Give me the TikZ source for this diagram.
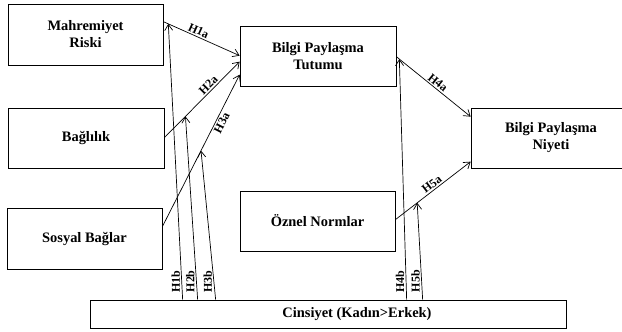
\documentclass[tikz,border=0pt]{standalone}
\usepackage{fontspec}
\setmainfont{Liberation Serif}
\usetikzlibrary{arrows.meta,calc}
\begin{document}
\begin{tikzpicture}[x=1bp,y=-1bp,
  box/.style={draw, line width=0.7bp, rectangle, inner sep=0pt, align=center,
    font=\fontsize{14.5}{17}\selectfont\bfseries},
  arr/.style={line width=0.7bp, -{Straight Barb[length=6bp,width=8bp,line width=0.7bp]}},
  lab/.style={font=\fontsize{12}{14}\selectfont\bfseries, inner sep=1.5bp},
  vlab/.style={font=\fontsize{12}{14}\selectfont\bfseries, inner sep=1.5bp, rotate=90, anchor=south}]
\useasboundingbox (0,0) rectangle (622,331);
% boxes
\node[box, minimum width=155bp, minimum height=61bp] (mahr) at (85.5,34.5) {Mahremiyet\\Riski};
\node[box, minimum width=156bp, minimum height=60bp] (tut) at (318,56) {Bilgi Paylaşma\\Tutumu};
\node[box, minimum width=156bp, minimum height=60bp] (bag) at (86,138) {Bağlılık};
\node[box, minimum width=155bp, minimum height=61bp] (sos) at (84.5,238.5) {Sosyal Bağlar};
\node[box, minimum width=155bp, minimum height=60bp] (ozn) at (317.5,221) {Öznel Normlar};
\node[box, minimum width=160bp, minimum height=60bp] (niy) at (551,138) {Bilgi Paylaşma\\Niyeti};
\node[box, minimum width=476bp, minimum height=28bp] (cins) at (328,314) {\hspace*{58bp}Cinsiyet (Kadın>Erkek)};
% connector ends
\coordinate (h1as) at ($(mahr.north east)+(0,18)$);
\coordinate (h1ae) at ($(tut.north west)+(0,30)$);
\coordinate (h2as) at ($(bag.north east)+(0,30)$);
\coordinate (h2ae) at ($(tut.north west)+(0,36)$);
\coordinate (h3as) at ($(sos.north east)+(0,19)$);
\coordinate (h3ae) at ($(tut.north west)+(0,49)$);
\coordinate (h4as) at ($(tut.north east)+(0,31)$);
\coordinate (h4ae) at ($(niy.north west)+(0,9)$);
\coordinate (h5as) at ($(ozn.north east)+(0,29)$);
\coordinate (h5ae) at ($(niy.north west)+(0,54)$);
\coordinate (h1bs) at ($(cins.north west)+(93,0)$);
\coordinate (h2bs) at ($(cins.north west)+(108,0)$);
\coordinate (h3bs) at ($(cins.north west)+(126,0)$);
\coordinate (h4bs) at ($(cins.north west)+(317,0)$);
\coordinate (h5bs) at ($(cins.north west)+(333,0)$);
% points on the paths
\path (h1as) -- (h1ae) coordinate[pos=0.065] (h1t);
\path (h2as) -- (h2ae) coordinate[pos=0.28] (h2t);
\path (h3as) -- (h3ae) coordinate[pos=0.5] (h3t);
\path (h4as) -- (h4ae) coordinate[pos=0.04] (h4t);
\path (h5as) -- (h5ae) coordinate[pos=0.29] (h5t);
% main arrows
\draw[arr] (h1as) -- node[lab, pos=0.43, sloped, above] {H1a} (h1ae);
\draw[arr] (h2as) -- node[lab, pos=0.64, sloped, above] {H2a} (h2ae);
\draw[arr] (h3as) -- node[lab, pos=0.70, sloped, below] {H3a} (h3ae);
\draw[arr] (h4as) -- node[lab, pos=0.51, sloped, above] {H4a} (h4ae);
\draw[arr] (h5as) -- node[lab, pos=0.53, sloped, above] {H5a} (h5ae);
% moderator arrows
\draw[arr] (h1bs) -- node[vlab, pos=0.065] {H1b} (h1t);
\draw[arr] (h2bs) -- node[vlab, pos=0.10] {H2b} (h2t);
\draw[arr] (h3bs) -- node[vlab, pos=0.12] {H3b} (h3t);
\draw[arr] (h4bs) -- node[vlab, pos=0.075] {H4b} (h4t);
\draw[arr] (h5bs) -- node[vlab, pos=0.19] {H5b} (h5t);
\end{tikzpicture}
\end{document}
